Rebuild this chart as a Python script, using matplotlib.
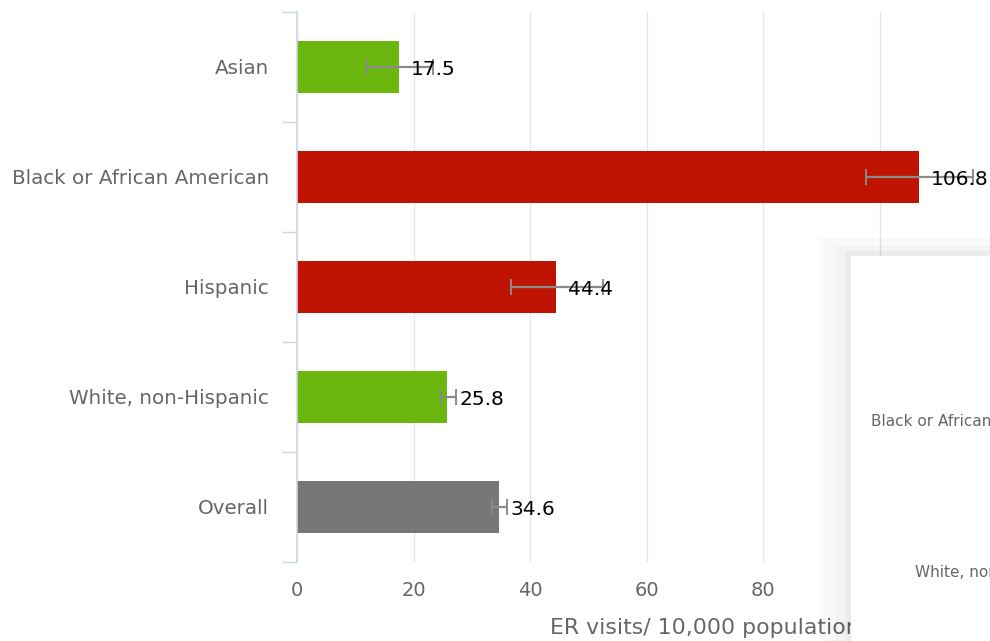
import numpy as np
import matplotlib
matplotlib.use("Agg")
import matplotlib.pyplot as plt
from matplotlib.patches import Rectangle

# data
groups = ["Asian", "Black or African American", "Hispanic", "White, non-Hispanic", "Overall"]
rates = [17.5, 106.8, 44.4, 25.8, 34.6]
ci_low = [12.0, 97.6, 36.7, 24.7, 33.4]
ci_high = [23.3, 116.0, 52.5, 27.2, 36.0]
bar_colors = ["#6bb70e", "#be1300", "#be1300", "#6bb70e", "#777777"]
xticks = [0, 20, 40, 60, 80, 100, 120, 140]

axis_col = "#ccd6eb"
grid_col = "#e6e6e6"
text_col = "#666666"

fig = plt.figure(figsize=(9.9, 6.41), dpi=100)
# axes runs past the right edge of the picture (the screenshot is cropped)
ax = fig.add_axes([297/990, 79/641, 816/990, 550/641])

y = np.arange(len(groups))
rates = np.array(rates)
err = np.array([rates - np.array(ci_low), np.array(ci_high) - rates])

ax.barh(y, rates, height=0.47, color=bar_colors, zorder=2)
ax.errorbar(rates, y, xerr=err, fmt="none", ecolor="#8a8a8a", elinewidth=1.6,
            capsize=5.5, capthick=1.4, zorder=3)
for yi, v in zip(y, rates):
    ax.annotate(f"{v}", (v, yi), xytext=(8.5, -2), textcoords="offset points",
                va="center", ha="left", fontsize=14.5, color="black", zorder=4)

ax.set_xlim(0, 140)
ax.set_ylim(4.5, -0.5)
ax.set_xticks(xticks)
ax.set_yticks(y)
ax.set_yticklabels(groups)
ax.set_yticks(np.arange(-0.5, 5, 1), minor=True)
ax.tick_params(axis="x", length=0, pad=14, labelsize=14, labelcolor=text_col)
ax.tick_params(axis="y", which="major", length=0, pad=20, labelsize=14.3, labelcolor=text_col)
ax.tick_params(axis="y", which="minor", length=11, width=1, color=axis_col)
ax.grid(axis="x", color=grid_col, linewidth=1, zorder=0)
ax.set_axisbelow(True)
for s in ["top", "right", "bottom"]:
    ax.spines[s].set_visible(False)
ax.spines["left"].set_color(axis_col)
ax.spines["left"].set_linewidth(1.2)
ax.set_xlabel("ER visits/ 10,000 population", fontsize=15.8, color=text_col, labelpad=13)

# overlapping popup window in the lower right corner (soft shadow, then white)
W, H = 990, 641
def fig_rect(x0, y0, x1, y1, col, alpha=1.0):
    fig.add_artist(Rectangle((x0/W, 1 - y1/H), (x1-x0)/W, (y1-y0)/H,
                             transform=fig.transFigure, facecolor=col, alpha=alpha,
                             edgecolor="none", zorder=10))

fig_rect(820, 238, 990, 641, "black", 0.025)
fig_rect(836, 246, 990, 641, "black", 0.025)
fig_rect(845, 251, 990, 641, "black", 0.03)
fig_rect(851, 256, 990, 641, "white")
fig.text(871/W, 1 - 421/H, "Black or African American", fontsize=11, color=text_col,
         va="center", ha="left", zorder=11)
fig.text(915/W, 1 - 572/H, "White, non-Hispanic", fontsize=11, color=text_col,
         va="center", ha="left", zorder=11)

fig.savefig("out.png", dpi=100)
